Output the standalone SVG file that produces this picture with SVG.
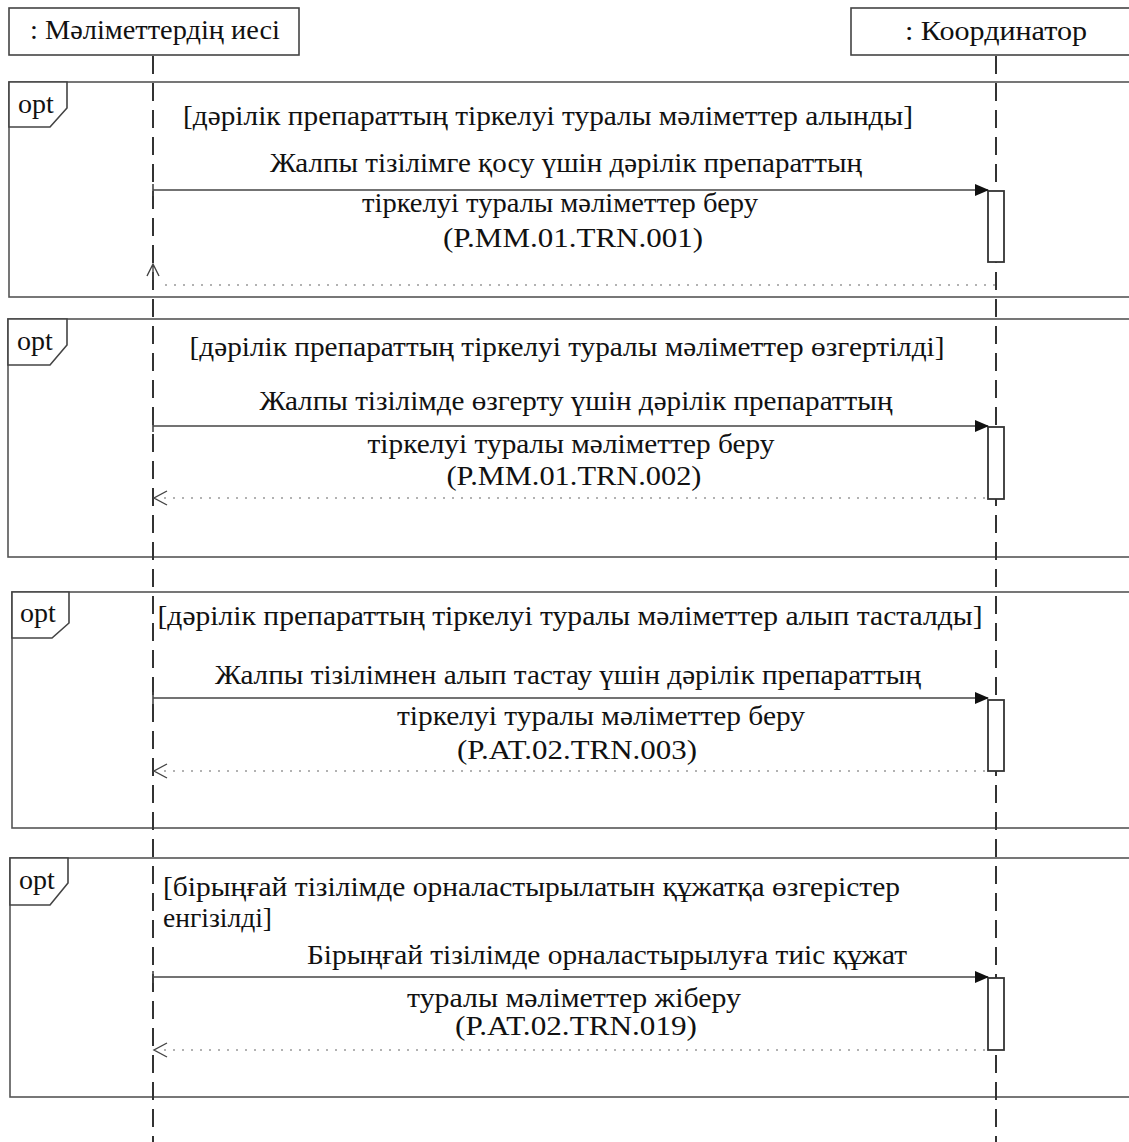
<svg xmlns="http://www.w3.org/2000/svg" width="1129" height="1142" viewBox="0 0 1129 1142">
<style>
text{font-family:"Liberation Serif","DejaVu Serif",serif;fill:#111;font-size:28px}
.hd{font-size:28px}
.frame{fill:none;stroke:#555;stroke-width:1.6}
.tag{fill:#fff;stroke:#444;stroke-width:1.6}
.life{stroke:#333;stroke-width:2;stroke-dasharray:18 9}
.msg{stroke:#444;stroke-width:1.6;fill:none}
.ret{stroke:#999;stroke-width:1.4;stroke-dasharray:2 7;fill:none}
.head{stroke:#444;stroke-width:1.4;fill:none}
.act{fill:#fff;stroke:#333;stroke-width:1.8}
</style>
<defs>
<marker id="arr" markerWidth="14" markerHeight="12" refX="13" refY="6" orient="auto" markerUnits="userSpaceOnUse">
<path d="M0,0 L14,6 L0,12 Z" fill="#111"/>
</marker>
</defs>
<rect width="1129" height="1142" fill="#fff"/>

<g id="frames">
<g id="frame1">
<rect class="frame" x="9" y="82" width="1130" height="215"/>
<path class="tag" d="M9,82 H67 V108 L50,127 H9 Z"/>
<text x="18" y="113">opt</text>
<text x="548" y="125" text-anchor="middle" textLength="730" lengthAdjust="spacingAndGlyphs">[дәрілік препараттың тіркелуі туралы мәліметтер алынды]</text>
</g>
<g id="frame2">
<rect class="frame" x="8" y="319" width="1131" height="238"/>
<path class="tag" d="M8,319 H67 V345 L50,365 H8 Z"/>
<text x="17" y="350">opt</text>
<text x="567" y="356" text-anchor="middle" textLength="755" lengthAdjust="spacingAndGlyphs">[дәрілік препараттың тіркелуі туралы мәліметтер өзгертілді]</text>
</g>
<g id="frame3">
<rect class="frame" x="12" y="592" width="1127" height="236"/>
<path class="tag" d="M12,592 H69 V623 L52,638 H12 Z"/>
<text x="20" y="622">opt</text>
<text x="570" y="625" text-anchor="middle" textLength="825" lengthAdjust="spacingAndGlyphs">[дәрілік препараттың тіркелуі туралы мәліметтер алып тасталды]</text>
</g>
<g id="frame4">
<rect class="frame" x="10" y="858" width="1129" height="239"/>
<path class="tag" d="M10,858 H68 V883 L50,905 H10 Z"/>
<text x="19" y="889">opt</text>
<text x="163" y="896" textLength="737" lengthAdjust="spacingAndGlyphs">[бірыңғай тізілімде орналастырылатын құжатқа өзгерістер</text>
<text x="163" y="927" textLength="109" lengthAdjust="spacingAndGlyphs">енгізілді]</text>
</g>
</g>

<g id="lifelines">
<line class="life" x1="153" y1="56" x2="153" y2="1142"/>
<line class="life" x1="996" y1="56" x2="996" y2="1142"/>
</g>

<g id="owner">
<rect x="9" y="8" width="290" height="47" fill="#fff" stroke="#444" stroke-width="1.6"/>
<text class="hd" x="155" y="39" text-anchor="middle" textLength="250" lengthAdjust="spacingAndGlyphs">: Мәліметтердің иесі</text>
</g>
<g id="coordinator">
<rect x="851" y="8" width="290" height="47" fill="#fff" stroke="#444" stroke-width="1.6"/>
<text class="hd" x="996" y="40" text-anchor="middle" textLength="182" lengthAdjust="spacingAndGlyphs">: Координатор</text>
</g>

<g id="activations">
<rect class="act" x="988" y="191" width="16" height="71"/>
<rect class="act" x="988" y="427" width="16" height="72"/>
<rect class="act" x="988" y="700" width="16" height="71"/>
<rect class="act" x="988" y="978" width="16" height="72"/>
</g>

<g id="connectors">
<line class="msg" x1="153" y1="190" x2="988" y2="190" marker-end="url(#arr)"/>
<line class="msg" x1="153" y1="184" x2="153" y2="196"/>
<line class="ret" x1="995" y1="285" x2="160" y2="285"/>
<path class="head" d="M147,276 L153,264 L159,276 M153,264 V280"/>

<line class="msg" x1="153" y1="426" x2="988" y2="426" marker-end="url(#arr)"/>
<line class="msg" x1="153" y1="420" x2="153" y2="432"/>
<line class="ret" x1="985" y1="498" x2="158" y2="498"/>
<path class="head" d="M167,491 L154,498 L167,505"/>

<line class="msg" x1="153" y1="698" x2="988" y2="698" marker-end="url(#arr)"/>
<line class="msg" x1="153" y1="692" x2="153" y2="704"/>
<line class="ret" x1="985" y1="771" x2="158" y2="771"/>
<path class="head" d="M167,764 L154,771 L167,778"/>

<line class="msg" x1="153" y1="977" x2="988" y2="977" marker-end="url(#arr)"/>
<line class="msg" x1="153" y1="971" x2="153" y2="983"/>
<line class="ret" x1="985" y1="1050" x2="158" y2="1050"/>
<path class="head" d="M167,1043 L154,1050 L167,1057"/>
</g>

<g id="labels">
<text x="566" y="172" text-anchor="middle" textLength="592" lengthAdjust="spacingAndGlyphs">Жалпы тізілімге қосу үшін дәрілік препараттың</text>
<text x="560" y="212" text-anchor="middle" textLength="396" lengthAdjust="spacingAndGlyphs">тіркелуі туралы мәліметтер беру</text>
<text x="573" y="247" text-anchor="middle" textLength="260" lengthAdjust="spacingAndGlyphs">(P.MM.01.TRN.001)</text>

<text x="576" y="410" text-anchor="middle" textLength="633" lengthAdjust="spacingAndGlyphs">Жалпы тізілімде өзгерту үшін дәрілік препараттың</text>
<text x="571" y="453" text-anchor="middle" textLength="407" lengthAdjust="spacingAndGlyphs">тіркелуі туралы мәліметтер беру</text>
<text x="574" y="485" text-anchor="middle" textLength="255" lengthAdjust="spacingAndGlyphs">(P.MM.01.TRN.002)</text>

<text x="568" y="684" text-anchor="middle" textLength="706" lengthAdjust="spacingAndGlyphs">Жалпы тізілімнен алып тастау үшін дәрілік препараттың</text>
<text x="601" y="725" text-anchor="middle" textLength="408" lengthAdjust="spacingAndGlyphs">тіркелуі туралы мәліметтер беру</text>
<text x="577" y="759" text-anchor="middle" textLength="240" lengthAdjust="spacingAndGlyphs">(P.AT.02.TRN.003)</text>

<text x="607" y="964" text-anchor="middle" textLength="600" lengthAdjust="spacingAndGlyphs">Бірыңғай тізілімде орналастырылуға тиіс құжат</text>
<text x="574" y="1007" text-anchor="middle" textLength="334" lengthAdjust="spacingAndGlyphs">туралы мәліметтер жіберу</text>
<text x="576" y="1035" text-anchor="middle" textLength="242" lengthAdjust="spacingAndGlyphs">(P.AT.02.TRN.019)</text>
</g>
</svg>
